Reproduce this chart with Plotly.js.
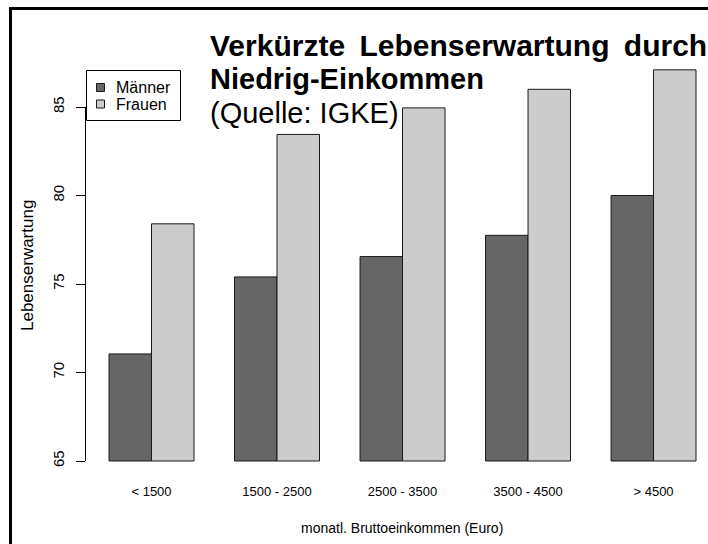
<!DOCTYPE html>
<html>
<head>
<meta charset="utf-8">
<script src="https://cdn.plot.ly/plotly-3.0.1.min.js"></script>
<style>
  html, body { margin: 0; padding: 0; background: #fff; }
  #wrap { position: relative; width: 708px; height: 544px; overflow: hidden; }
  #chart { position: absolute; left: 0; top: 0; width: 708px; height: 544px; }
  #frame { position: absolute; left: 9px; top: 7px; width: 720px; height: 560px;
           border-left: 3px solid #000; border-top: 3px solid #000; pointer-events: none; }
</style>
</head>
<body>
<div id="wrap">
  <div id="chart"></div>
  <div id="frame"></div>
</div>
<script>
// ---- data ----
const categories = ['< 1500', '1500 - 2500', '2500 - 3500', '3500 - 4500', '> 4500'];
const maenner = [71.05, 75.4, 76.55, 77.75, 80.0];
const frauen  = [78.4, 83.45, 84.95, 86.0, 87.1];
const seriesNames = ['Männer', 'Frauen'];
const seriesColors = ['#666666', '#cccccc'];
const yTicks = [65, 70, 75, 80, 85];
const BASE = 65;

// ---- layout helpers ----
const W = 708, H = 544;
const mL = 86, mR = 0, mT = 20, mB = 74;
const plotH = H - mT - mB;
const py = px => (H - mB - px) / plotH;          // pixel row -> paper y
const pxX = px => (px - mL) / (W - mL - mR);     // pixel col -> paper x

const font = 'Liberation Sans, Arial, sans-serif';
const outline = '#1a1a1a';

const traces = [maenner, frauen].map((vals, i) => ({
  type: 'bar', name: seriesNames[i], x: categories,
  y: vals.map(v => v - BASE), base: BASE, customdata: vals,
  marker: { color: seriesColors[i], line: { color: outline, width: 1 } },
  hovertemplate: '%{x}: %{customdata}<extra>' + seriesNames[i] + '</extra>',
  showlegend: false
}));

// legend drawn as a small key box (R style)
const legendShapes = [
  { type: 'rect', xref: 'paper', yref: 'paper', x0: pxX(86.5), x1: pxX(180.5), y0: py(120.5), y1: py(70.5),
    line: { color: '#000', width: 1 }, fillcolor: '#fff', layer: 'above' }
];
const legendAnn = [];
seriesNames.forEach((name, i) => {
  const cy = 87.5 + i * 16.5;
  legendShapes.push({ type: 'rect', xref: 'paper', yref: 'paper',
    x0: pxX(96.5), x1: pxX(104.5), y0: py(cy + 4), y1: py(cy - 4),
    line: { color: outline, width: 1 }, fillcolor: seriesColors[i], layer: 'above' });
  legendAnn.push({ text: name, xref: 'paper', yref: 'paper', x: pxX(113.5), y: py(cy + 0.5),
    xanchor: 'left', yanchor: 'middle', showarrow: false,
    font: { size: 16, family: font, color: '#000' } });
});

const layout = {
  width: W, height: H,
  margin: { l: mL, r: mR, t: mT, b: mB, pad: 0 },
  paper_bgcolor: '#fff', plot_bgcolor: '#fff',
  font: { family: font, color: '#000' },
  barmode: 'group', bargap: 0.323, bargroupgap: 0,
  showlegend: false,
  xaxis: {
    type: 'category', range: [-0.522, 4.434],
    showline: false, showgrid: false, zeroline: false, ticks: '',
    tickfont: { size: 13, family: font, color: '#000' },
    ticklabelstandoff: 12, fixedrange: true
  },
  yaxis: {
    range: [65 - (H - mB - 461) / 17.7, 85 + (107 - mT) / 17.7],
    tickvals: yTicks, ticktext: yTicks.map(String),
    ticks: 'outside', ticklen: 9, tickwidth: 1, tickcolor: '#000',
    tickangle: -90, tickfont: { size: 15, family: font, color: '#000' },
    ticklabelstandoff: 6,
    showline: false, showgrid: false, zeroline: false, fixedrange: true
  },
  shapes: [
    { type: 'line', xref: 'paper', yref: 'y', x0: pxX(85.5), x1: pxX(85.5),
      y0: yTicks[0], y1: yTicks[yTicks.length - 1], line: { color: '#000', width: 1 } }
  ].concat(legendShapes),
  annotations: [
    { text: '<b>Verkürzte \u2009Lebenserwartung \u2009durch</b>', xref: 'paper', yref: 'paper',
      x: pxX(208), y: py(45), xanchor: 'left', yanchor: 'middle', showarrow: false,
      font: { size: 30, family: font, color: '#000' } },
    { text: '<b>Niedrig-Einkommen</b>', xref: 'paper', yref: 'paper',
      x: pxX(208), y: py(79), xanchor: 'left', yanchor: 'middle', showarrow: false,
      font: { size: 29, family: font, color: '#000' } },
    { text: '(Quelle: IGKE)', xref: 'paper', yref: 'paper',
      x: pxX(208), y: py(113), xanchor: 'left', yanchor: 'middle', showarrow: false,
      font: { size: 29, family: font, color: '#000' } },
    { text: 'Lebenserwartung', xref: 'paper', yref: 'paper',
      x: pxX(27), y: py(266), xanchor: 'center', yanchor: 'middle', textangle: -90, showarrow: false,
      font: { size: 17, family: font, color: '#000' } },
    { text: 'monatl. Bruttoeinkommen (Euro)', xref: 'paper', yref: 'paper',
      x: pxX(402), y: py(528), xanchor: 'center', yanchor: 'middle', showarrow: false,
      font: { size: 14, family: font, color: '#000' } }
  ].concat(legendAnn)
};

Plotly.newPlot('chart', traces, layout, { displayModeBar: false, responsive: false });
</script>
</body>
</html>
